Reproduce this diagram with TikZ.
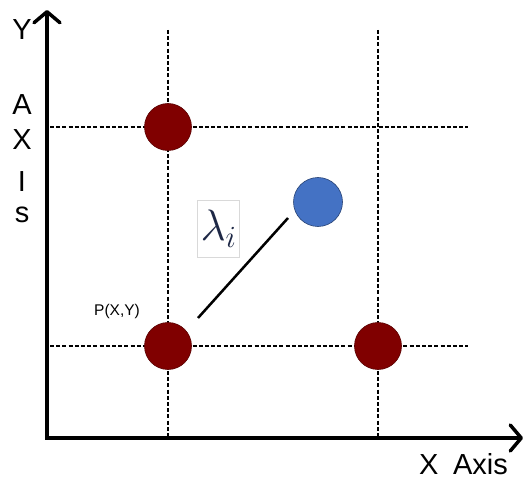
\RequirePackage{fix-cm}
\documentclass[tikz,border=0pt]{standalone}
\usepackage{fontspec}
\setmainfont{Liberation Sans}
\usetikzlibrary{arrows.meta}
\definecolor{darkred}{RGB}{128,0,0}
\definecolor{ptblue}{RGB}{68,114,196}
\definecolor{lamcol}{RGB}{30,40,70}
\begin{document}
\begin{tikzpicture}[x=1pt,y=-1pt,
  axis/.style={line width=4pt,-{Straight Barb[length=11pt,width=26pt,line width=3.5pt,round]}},
  grid/.style={line width=2.3pt,dash pattern=on 4pt off 2.2pt},
  redpt/.style={circle,minimum size=47pt,inner sep=0pt,fill=darkred,draw=darkred!70!black,line width=0.6pt},
  bluept/.style={circle,minimum size=49pt,inner sep=0pt,fill=ptblue,draw=ptblue!60!black,line width=0.6pt},
  lbl/.style={font=\fontsize{29}{32}\selectfont,inner sep=0pt,anchor=base}
]
\useasboundingbox (0,0) rectangle (525,481);
% coordinates
\coordinate (o) at (47,438);
\coordinate (ytip) at (47,10);
\coordinate (xtip) at (523,438);
\coordinate (v1t) at (168,30); \coordinate (v1b) at (168,440);
\coordinate (v2t) at (378,30); \coordinate (v2b) at (378,440);
\coordinate (h1l) at (50,127); \coordinate (h1r) at (468,127);
\coordinate (h2l) at (50,346); \coordinate (h2r) at (468,346);
% grid lines
\draw[grid] (v1t) -- (v1b);
\draw[grid] (v2t) -- (v2b);
\draw[grid] (h1l) -- (h1r);
\draw[grid] (h2l) -- (h2r);
% axes
\draw[axis] ([yshift=2pt]o) -- (ytip);
\draw[axis] ([xshift=-2pt]o) -- (xtip);
% points
\node[redpt] (p1) at (168,127) {};
\node[redpt] (p2) at (168,346) {};
\node[redpt] (p3) at (378,346) {};
\node[bluept] (q) at (318,202) {};
% lambda label
\node[draw=gray!30,line width=0.5pt,fill=white,minimum width=42pt,minimum height=57pt,inner sep=0pt,
      text=lamcol] (lam) at (218.5,228.5) {\fontsize{44}{48}\selectfont$\lambda_i$};
\coordinate (l1) at (198,318);
\coordinate (l2) at (288,218);
\draw[line width=2.5pt] (l1) -- (l2);
% texts
\node[font=\fontsize{15.5}{18}\selectfont,inner sep=0pt] (pxy) at (117,311) {P(X,Y)};
\node[lbl] (ly) at (22,40) {Y};
\node[lbl] (la) at (22,115) {A};
\node[lbl] (lx) at (22,150) {X};
\node[lbl] (li) at (22,192) {I};
\node[lbl] (ls) at (22,223) {s};
\node[lbl,anchor=base west] (xax) at (419,474) {X\hspace{0.5em}Axis};
\end{tikzpicture}
\end{document}
